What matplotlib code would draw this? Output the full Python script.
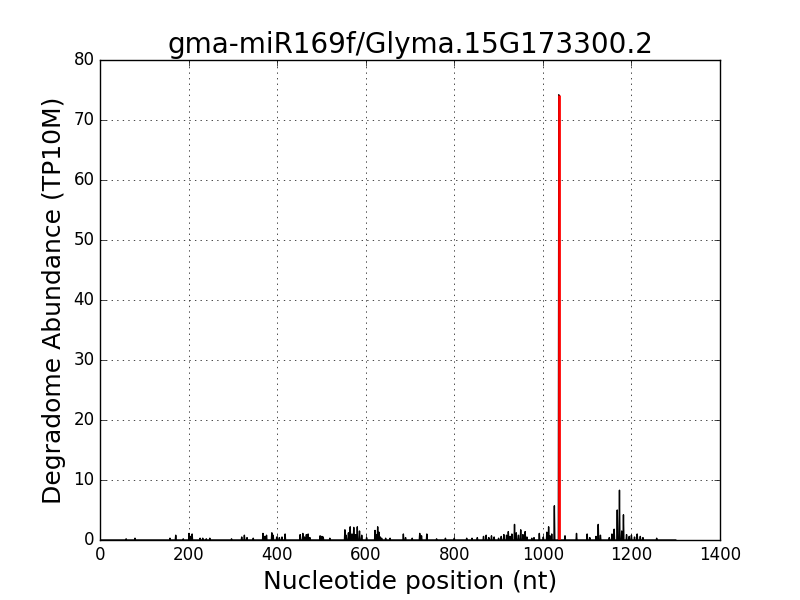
import numpy as np
import matplotlib
matplotlib.use("Agg")
import matplotlib.pyplot as plt

plt.style.use("classic")

title = "gma-miR169f/Glyma.15G173300.2"
transcript_length = 1300

peak_positions = [59, 79, 158, 171, 188, 201, 204, 208, 226, 232, 240, 248, 297,
                  320, 326, 332, 346, 368, 372, 376, 388, 391, 399, 405, 411, 418,
                  452, 458, 462, 466, 470, 474, 497, 501, 504, 519, 553, 556, 561,
                  565, 569, 573, 577, 581, 586, 591, 602, 621, 624, 627, 630, 633,
                  636, 645, 655, 685, 690, 705, 722, 726, 738, 760, 780, 800, 828,
                  840, 852, 866, 872, 878, 884, 890, 900, 906, 912, 918, 922, 926,
                  930, 936, 940, 945, 950, 955, 960, 964, 975, 980, 992, 1001, 1009,
                  1013, 1016, 1020, 1026, 1036, 1050, 1076, 1100, 1106, 1120, 1125,
                  1130, 1150, 1156, 1161, 1168, 1173, 1178, 1182, 1189, 1195, 1200,
                  1207, 1213, 1220, 1226, 1257]
peak_values = [0.2, 0.3, 0.3, 0.8, 0.2, 1.1, 0.6, 1.0, 0.3, 0.3, 0.2, 0.3, 0.2,
               0.5, 0.8, 0.4, 0.3, 1.1, 0.6, 0.8, 1.2, 0.8, 0.5, 0.4, 0.5, 1.0,
               0.9, 1.1, 0.5, 0.9, 1.0, 0.4, 0.7, 0.6, 0.5, 0.3, 1.7, 0.8, 1.2,
               2.2, 1.0, 2.1, 0.9, 2.2, 1.5, 0.8, 0.4, 1.6, 0.9, 2.2, 1.3, 0.5,
               0.3, 0.3, 0.3, 1.0, 0.4, 0.3, 1.1, 0.7, 1.0, 0.2, 0.3, 0.3, 0.3,
               0.3, 0.4, 0.6, 0.8, 0.4, 0.7, 0.5, 0.3, 0.6, 0.9, 0.8, 1.4, 0.6,
               1.0, 2.6, 1.2, 0.8, 1.7, 0.9, 1.4, 0.5, 0.3, 0.4, 1.1, 0.5, 1.3,
               2.2, 0.7, 1.0, 5.7, 74.2, 0.7, 1.1, 1.0, 0.4, 0.6, 2.6, 0.8, 0.4,
               1.0, 1.8, 5.0, 8.3, 1.5, 4.2, 0.9, 0.6, 0.8, 0.5, 1.0, 0.6, 0.4, 0.3]

target_positions = [1036]
target_values = [74.2]

positions = np.arange(1, transcript_length + 1)
abundance = np.zeros(transcript_length)
abundance[np.array(peak_positions) - 1] = peak_values

fig = plt.figure(figsize=(8, 6), dpi=100, facecolor="white")
ax = fig.add_subplot(111)
ax.plot(positions, abundance, color="black", linewidth=1)
ax.vlines(target_positions, 0, target_values, color="red", linewidth=2)

ax.set_xlim(0, 1400)
ax.set_ylim(0, 80)
ax.grid(True)
ax.set_title(title, fontsize=20)
ax.set_xlabel("Nucleotide position (nt)", fontsize=18)
ax.set_ylabel("Degradome Abundance (TP10M)", fontsize=18)
ax.tick_params(labelsize=12)

fig.savefig("out.png", dpi=100, facecolor="white")
